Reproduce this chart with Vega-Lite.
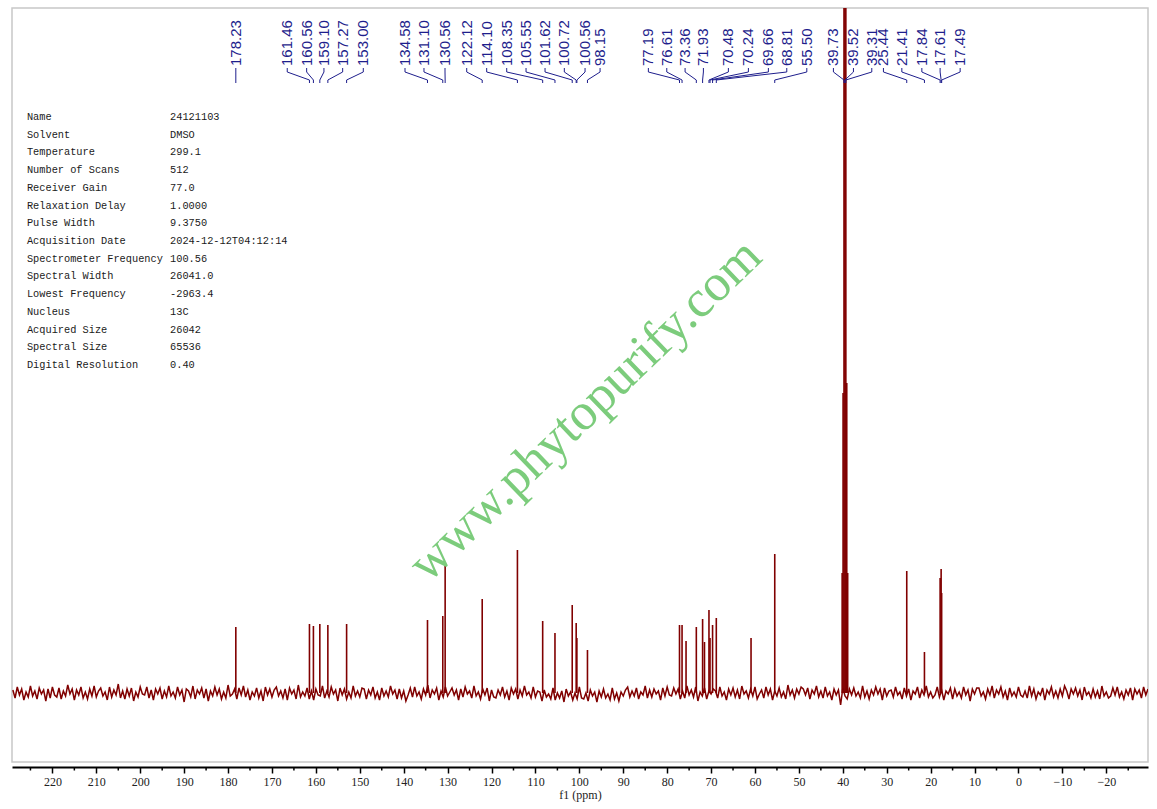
{
  "$schema": "https://vega.github.io/schema/vega-lite/v6.json",
  "width": 1136,
  "height": 754,
  "autosize": "none",
  "padding": {"left": 12, "top": 8, "right": 9, "bottom": 47},
  "background": "white",
  "config": {"view": {"stroke": "#c8c8c8", "strokeWidth": 1.5}},
  "datasets": {
    "noise": [
      {"x":229,"y":3},{"x":228.5,"y":-5},{"x":228,"y":6},{"x":227.5,"y":-2},{"x":227,"y":4},{"x":226.5,"y":-7},{"x":226,"y":1},{"x":225.5,"y":-4},{"x":225,"y":7},{"x":224.5,"y":-3},{"x":224,"y":2},{"x":223.5,"y":-6},{"x":223,"y":5},{"x":222.5,"y":-1},{"x":222,"y":3},{"x":221.5,"y":-8},{"x":221,"y":4},{"x":220.5,"y":-5},{"x":220,"y":6},{"x":219.5,"y":-2},
      {"x":219,"y":-4},{"x":218.5,"y":5},{"x":218,"y":-6},{"x":217.5,"y":2},{"x":217,"y":-3},{"x":216.5,"y":8},{"x":216,"y":-1},{"x":215.5,"y":4},{"x":215,"y":-7},{"x":214.5,"y":3},{"x":214,"y":-2},{"x":213.5,"y":6},{"x":213,"y":-5},{"x":212.5,"y":1},{"x":212,"y":-6},{"x":211.5,"y":4},{"x":211,"y":-3},{"x":210.5,"y":7},{"x":210,"y":-4},{"x":209.5,"y":2},
      {"x":209,"y":5},{"x":208.5,"y":-3},{"x":208,"y":1},{"x":207.5,"y":-7},{"x":207,"y":6},{"x":206.5,"y":-4},{"x":206,"y":3},{"x":205.5,"y":-2},{"x":205,"y":9},{"x":204.5,"y":-5},{"x":204,"y":2},{"x":203.5,"y":-6},{"x":203,"y":4},{"x":202.5,"y":-3},{"x":202,"y":5},{"x":201.5,"y":-8},{"x":201,"y":1},{"x":200.5,"y":-4},{"x":200,"y":6},{"x":199.5,"y":-1},
      {"x":199,"y":-2},{"x":198.5,"y":6},{"x":198,"y":-5},{"x":197.5,"y":3},{"x":197,"y":-7},{"x":196.5,"y":4},{"x":196,"y":-1},{"x":195.5,"y":5},{"x":195,"y":-6},{"x":194.5,"y":2},{"x":194,"y":-4},{"x":193.5,"y":7},{"x":193,"y":-3},{"x":192.5,"y":1},{"x":192,"y":-5},{"x":191.5,"y":6},{"x":191,"y":-2},{"x":190.5,"y":3},{"x":190,"y":-9},{"x":189.5,"y":4},
      {"x":189,"y":2},{"x":188.5,"y":-4},{"x":188,"y":7},{"x":187.5,"y":-6},{"x":187,"y":3},{"x":186.5,"y":-1},{"x":186,"y":5},{"x":185.5,"y":-5},{"x":185,"y":4},{"x":184.5,"y":-8},{"x":184,"y":2},{"x":183.5,"y":-3},{"x":183,"y":6},{"x":182.5,"y":-2},{"x":182,"y":4},{"x":181.5,"y":-6},{"x":181,"y":1},{"x":180.5,"y":-5},{"x":180,"y":8},{"x":179.5,"y":-3},
      {"x":179,"y":-1},{"x":178.5,"y":4},{"x":178,"y":-6},{"x":177.5,"y":5},{"x":177,"y":-2},{"x":176.5,"y":7},{"x":176,"y":-4},{"x":175.5,"y":3},{"x":175,"y":-7},{"x":174.5,"y":1},{"x":174,"y":-3},{"x":173.5,"y":5},{"x":173,"y":-5},{"x":172.5,"y":2},{"x":172,"y":-8},{"x":171.5,"y":6},{"x":171,"y":-2},{"x":170.5,"y":4},{"x":170,"y":-4},{"x":169.5,"y":3},
      {"x":169,"y":6},{"x":168.5,"y":-3},{"x":168,"y":2},{"x":167.5,"y":-5},{"x":167,"y":4},{"x":166.5,"y":-7},{"x":166,"y":5},{"x":165.5,"y":-1},{"x":165,"y":3},{"x":164.5,"y":-6},{"x":164,"y":8},{"x":163.5,"y":-4},{"x":163,"y":1},{"x":162.5,"y":-3},{"x":162,"y":5},{"x":161.5,"y":-6},{"x":161,"y":2},{"x":160.5,"y":-7},{"x":160,"y":4},{"x":159.5,"y":-2},
      {"x":159,"y":-3},{"x":158.5,"y":7},{"x":158,"y":-5},{"x":157.5,"y":2},{"x":157,"y":-4},{"x":156.5,"y":6},{"x":156,"y":-1},{"x":155.5,"y":3},{"x":155,"y":-8},{"x":154.5,"y":5},{"x":154,"y":-2},{"x":153.5,"y":4},{"x":153,"y":-6},{"x":152.5,"y":1},{"x":152,"y":-5},{"x":151.5,"y":7},{"x":151,"y":-3},{"x":150.5,"y":2},{"x":150,"y":-4},{"x":149.5,"y":5},
      {"x":149,"y":4},{"x":148.5,"y":-6},{"x":148,"y":3},{"x":147.5,"y":-2},{"x":147,"y":6},{"x":146.5,"y":-5},{"x":146,"y":1},{"x":145.5,"y":-7},{"x":145,"y":5},{"x":144.5,"y":-3},{"x":144,"y":2},{"x":143.5,"y":-4},{"x":143,"y":7},{"x":142.5,"y":-1},{"x":142,"y":3},{"x":141.5,"y":-6},{"x":141,"y":4},{"x":140.5,"y":-5},{"x":140,"y":2},{"x":139.5,"y":-8},
      {"x":139,"y":-2},{"x":138.5,"y":5},{"x":138,"y":-4},{"x":137.5,"y":6},{"x":137,"y":-3},{"x":136.5,"y":1},{"x":136,"y":-6},{"x":135.5,"y":4},{"x":135,"y":-2},{"x":134.5,"y":8},{"x":134,"y":-5},{"x":133.5,"y":3},{"x":133,"y":-1},{"x":132.5,"y":5},{"x":132,"y":-7},{"x":131.5,"y":2},{"x":131,"y":-4},{"x":130.5,"y":6},{"x":130,"y":-3},{"x":129.5,"y":1},
      {"x":129,"y":5},{"x":128.5,"y":-2},{"x":128,"y":3},{"x":127.5,"y":-7},{"x":127,"y":4},{"x":126.5,"y":-4},{"x":126,"y":6},{"x":125.5,"y":-1},{"x":125,"y":2},{"x":124.5,"y":-5},{"x":124,"y":7},{"x":123.5,"y":-3},{"x":123,"y":1},{"x":122.5,"y":-6},{"x":122,"y":4},{"x":121.5,"y":-2},{"x":121,"y":5},{"x":120.5,"y":-8},{"x":120,"y":3},{"x":119.5,"y":-4},
      {"x":119,"y":-5},{"x":118.5,"y":3},{"x":118,"y":-2},{"x":117.5,"y":6},{"x":117,"y":-4},{"x":116.5,"y":2},{"x":116,"y":-7},{"x":115.5,"y":5},{"x":115,"y":-1},{"x":114.5,"y":4},{"x":114,"y":-6},{"x":113.5,"y":3},{"x":113,"y":-3},{"x":112.5,"y":7},{"x":112,"y":-2},{"x":111.5,"y":1},{"x":111,"y":-5},{"x":110.5,"y":6},{"x":110,"y":-4},{"x":109.5,"y":2},
      {"x":109,"y":1},{"x":108.5,"y":-8},{"x":108,"y":3},{"x":107.5,"y":-4},{"x":107,"y":-1},{"x":106.5,"y":-6},{"x":106,"y":5},{"x":105.5,"y":-7},{"x":105,"y":0},{"x":104.5,"y":-5},{"x":104,"y":2},{"x":103.5,"y":-9},{"x":103,"y":4},{"x":102.5,"y":-3},{"x":102,"y":1},{"x":101.5,"y":-7},{"x":101,"y":0},{"x":100.5,"y":-6},{"x":100,"y":6},{"x":99.5,"y":-5},
      {"x":99,"y":-6},{"x":98.5,"y":0},{"x":98,"y":-8},{"x":97.5,"y":3},{"x":97,"y":-3},{"x":96.5,"y":1},{"x":96,"y":-9},{"x":95.5,"y":2},{"x":95,"y":-4},{"x":94.5,"y":4},{"x":94,"y":-5},{"x":93.5,"y":-1},{"x":93,"y":-7},{"x":92.5,"y":5},{"x":92,"y":-6},{"x":91.5,"y":0},{"x":91,"y":-8},{"x":90.5,"y":1},{"x":90,"y":-3},{"x":89.5,"y":3},
      {"x":89,"y":6},{"x":88.5,"y":-4},{"x":88,"y":2},{"x":87.5,"y":-3},{"x":87,"y":5},{"x":86.5,"y":-6},{"x":86,"y":1},{"x":85.5,"y":-2},{"x":85,"y":7},{"x":84.5,"y":-5},{"x":84,"y":3},{"x":83.5,"y":-4},{"x":83,"y":4},{"x":82.5,"y":-1},{"x":82,"y":2},{"x":81.5,"y":-7},{"x":81,"y":5},{"x":80.5,"y":-3},{"x":80,"y":6},{"x":79.5,"y":-2},
      {"x":79,"y":-3},{"x":78.5,"y":5},{"x":78,"y":-1},{"x":77.5,"y":4},{"x":77,"y":-6},{"x":76.5,"y":2},{"x":76,"y":-5},{"x":75.5,"y":7},{"x":75,"y":-2},{"x":74.5,"y":3},{"x":74,"y":-4},{"x":73.5,"y":6},{"x":73,"y":-8},{"x":72.5,"y":1},{"x":72,"y":-3},{"x":71.5,"y":5},{"x":71,"y":-6},{"x":70.5,"y":2},{"x":70,"y":-1},{"x":69.5,"y":4},
      {"x":69,"y":2},{"x":68.5,"y":-5},{"x":68,"y":6},{"x":67.5,"y":-3},{"x":67,"y":1},{"x":66.5,"y":-7},{"x":66,"y":4},{"x":65.5,"y":-2},{"x":65,"y":5},{"x":64.5,"y":-4},{"x":64,"y":3},{"x":63.5,"y":-6},{"x":63,"y":7},{"x":62.5,"y":-1},{"x":62,"y":2},{"x":61.5,"y":-5},{"x":61,"y":4},{"x":60.5,"y":-3},{"x":60,"y":6},{"x":59.5,"y":-6},
      {"x":59,"y":-1},{"x":58.5,"y":3},{"x":58,"y":-5},{"x":57.5,"y":6},{"x":57,"y":-2},{"x":56.5,"y":4},{"x":56,"y":-7},{"x":55.5,"y":2},{"x":55,"y":-3},{"x":54.5,"y":5},{"x":54,"y":-4},{"x":53.5,"y":1},{"x":53,"y":-6},{"x":52.5,"y":8},{"x":52,"y":-2},{"x":51.5,"y":3},{"x":51,"y":-5},{"x":50.5,"y":4},{"x":50,"y":-1},{"x":49.5,"y":6},
      {"x":49,"y":4},{"x":48.5,"y":-2},{"x":48,"y":5},{"x":47.5,"y":-6},{"x":47,"y":3},{"x":46.5,"y":-1},{"x":46,"y":7},{"x":45.5,"y":-4},{"x":45,"y":2},{"x":44.5,"y":-5},{"x":44,"y":6},{"x":43.5,"y":-3},{"x":43,"y":1},{"x":42.5,"y":-7},{"x":42,"y":4},{"x":41.5,"y":-2},{"x":41,"y":3},{"x":40.5,"y":-12},{"x":40,"y":5},{"x":39.5,"y":-3},
      {"x":39,"y":-6},{"x":38.5,"y":4},{"x":38,"y":-2},{"x":37.5,"y":5},{"x":37,"y":-3},{"x":36.5,"y":1},{"x":36,"y":-5},{"x":35.5,"y":7},{"x":35,"y":-4},{"x":34.5,"y":2},{"x":34,"y":-6},{"x":33.5,"y":3},{"x":33,"y":-2},{"x":32.5,"y":6},{"x":32,"y":-1},{"x":31.5,"y":4},{"x":31,"y":-7},{"x":30.5,"y":5},{"x":30,"y":-3},{"x":29.5,"y":2},
      {"x":29,"y":3},{"x":28.5,"y":-4},{"x":28,"y":6},{"x":27.5,"y":-2},{"x":27,"y":1},{"x":26.5,"y":-6},{"x":26,"y":5},{"x":25.5,"y":-3},{"x":25,"y":4},{"x":24.5,"y":-7},{"x":24,"y":2},{"x":23.5,"y":-1},{"x":23,"y":6},{"x":22.5,"y":-5},{"x":22,"y":3},{"x":21.5,"y":-2},{"x":21,"y":7},{"x":20.5,"y":-4},{"x":20,"y":1},{"x":19.5,"y":-5},
      {"x":19,"y":-2},{"x":18.5,"y":6},{"x":18,"y":-4},{"x":17.5,"y":3},{"x":17,"y":-7},{"x":16.5,"y":2},{"x":16,"y":-1},{"x":15.5,"y":5},{"x":15,"y":-6},{"x":14.5,"y":4},{"x":14,"y":-3},{"x":13.5,"y":1},{"x":13,"y":-5},{"x":12.5,"y":6},{"x":12,"y":-2},{"x":11.5,"y":3},{"x":11,"y":-8},{"x":10.5,"y":4},{"x":10,"y":-1},{"x":9.5,"y":5},
      {"x":9,"y":5},{"x":8.5,"y":-3},{"x":8,"y":1},{"x":7.5,"y":-6},{"x":7,"y":4},{"x":6.5,"y":-2},{"x":6,"y":7},{"x":5.5,"y":-5},{"x":5,"y":3},{"x":4.5,"y":-1},{"x":4,"y":6},{"x":3.5,"y":-4},{"x":3,"y":2},{"x":2.5,"y":-7},{"x":2,"y":5},{"x":1.5,"y":-3},{"x":1,"y":1},{"x":0.5,"y":-4},{"x":0,"y":6},{"x":-0.5,"y":-2},
      {"x":-1,"y":-4},{"x":-1.5,"y":2},{"x":-2,"y":-5},{"x":-2.5,"y":7},{"x":-3,"y":-3},{"x":-3.5,"y":4},{"x":-4,"y":-6},{"x":-4.5,"y":1},{"x":-5,"y":-2},{"x":-5.5,"y":5},{"x":-6,"y":-7},{"x":-6.5,"y":3},{"x":-7,"y":-1},{"x":-7.5,"y":6},{"x":-8,"y":-4},{"x":-8.5,"y":2},{"x":-9,"y":-5},{"x":-9.5,"y":4},{"x":-10,"y":-3},{"x":-10.5,"y":7},
      {"x":-11,"y":2},{"x":-11.5,"y":-6},{"x":-12,"y":4},{"x":-12.5,"y":-1},{"x":-13,"y":5},{"x":-13.5,"y":-3},{"x":-14,"y":3},{"x":-14.5,"y":-7},{"x":-15,"y":6},{"x":-15.5,"y":-2},{"x":-16,"y":1},{"x":-16.5,"y":-5},{"x":-17,"y":4},{"x":-17.5,"y":-4},{"x":-18,"y":2},{"x":-18.5,"y":-6},{"x":-19,"y":7},{"x":-19.5,"y":-3},{"x":-20,"y":1},{"x":-20.5,"y":-5},
      {"x":-21,"y":-3},{"x":-21.5,"y":5},{"x":-22,"y":-2},{"x":-22.5,"y":6},{"x":-23,"y":-4},{"x":-23.5,"y":1},{"x":-24,"y":-6},{"x":-24.5,"y":3},{"x":-25,"y":-2},{"x":-25.5,"y":5},{"x":-26,"y":-7},{"x":-26.5,"y":4},{"x":-27,"y":-1},{"x":-27.5,"y":3},{"x":-28,"y":-5},{"x":-28.5,"y":6},{"x":-29,"y":-2},{"x":-29.5,"y":4}
    ],
    "peaks": [
      {"ppm":178.23,"h":66},{"ppm":161.46,"h":69},{"ppm":160.56,"h":67},{"ppm":159.10,"h":69},
      {"ppm":157.27,"h":68},{"ppm":153.00,"h":69},{"ppm":134.58,"h":73},{"ppm":131.10,"h":77},
      {"ppm":130.56,"h":131},{"ppm":122.12,"h":94},{"ppm":114.10,"h":143},{"ppm":108.35,"h":72},
      {"ppm":105.55,"h":60},{"ppm":101.62,"h":88},{"ppm":100.72,"h":70},{"ppm":100.56,"h":55},
      {"ppm":98.15,"h":43},{"ppm":77.19,"h":68},{"ppm":76.61,"h":68},{"ppm":75.70,"h":52},
      {"ppm":73.36,"h":66},{"ppm":71.93,"h":74},{"ppm":71.50,"h":51},{"ppm":70.48,"h":83},
      {"ppm":70.24,"h":55},{"ppm":69.66,"h":68},{"ppm":68.81,"h":75},{"ppm":60.90,"h":55},
      {"ppm":55.50,"h":139},{"ppm":40.15,"h":120},{"ppm":39.94,"h":300},{"ppm":39.73,"h":900},
      {"ppm":39.52,"h":1000},{"ppm":39.31,"h":900},{"ppm":39.10,"h":310},{"ppm":38.89,"h":120},
      {"ppm":25.44,"h":122},{"ppm":21.41,"h":41},{"ppm":17.84,"h":115},{"ppm":17.61,"h":124},
      {"ppm":17.49,"h":100}
    ],
    "labels": [
      {"ppm":178.23,"lx":178.23},{"ppm":161.46,"lx":166.52},{"ppm":160.56,"lx":162.10},
      {"ppm":159.10,"lx":158.16},{"ppm":157.27,"lx":153.90},{"ppm":153.00,"lx":149.20},
      {"ppm":134.58,"lx":139.70},{"ppm":131.10,"lx":135.38},{"ppm":130.56,"lx":130.59},
      {"ppm":122.12,"lx":125.65},{"ppm":114.10,"lx":121.10},{"ppm":108.35,"lx":116.54},
      {"ppm":105.55,"lx":112.14},{"ppm":101.62,"lx":107.81},{"ppm":100.72,"lx":103.42},
      {"ppm":100.56,"lx":98.70},{"ppm":98.15,"lx":95.28},{"ppm":77.19,"lx":84.28},
      {"ppm":76.61,"lx":80.09},{"ppm":73.36,"lx":75.92},{"ppm":71.93,"lx":71.75},
      {"ppm":70.48,"lx":66.06},{"ppm":70.24,"lx":61.50},{"ppm":69.66,"lx":56.95},
      {"ppm":68.81,"lx":52.76},{"ppm":55.50,"lx":48.20},{"ppm":39.73,"lx":42.14},
      {"ppm":39.52,"lx":37.58},{"ppm":39.31,"lx":33.40},{"ppm":25.44,"lx":30.75},
      {"ppm":21.41,"lx":26.56},{"ppm":17.84,"lx":22.00},{"ppm":17.61,"lx":17.84},
      {"ppm":17.49,"lx":13.28}
    ],
    "minorTicks": [
      {"t":225},{"t":215},{"t":205},{"t":195},{"t":185},{"t":175},{"t":165},{"t":155},{"t":145},
      {"t":135},{"t":125},{"t":115},{"t":105},{"t":95},{"t":85},{"t":75},{"t":65},{"t":55},
      {"t":45},{"t":35},{"t":25},{"t":15},{"t":5},{"t":-5},{"t":-15},{"t":-25}
    ],
    "params": [
      {"row":0,"k":"Name","v":"24121103"},
      {"row":1,"k":"Solvent","v":"DMSO"},
      {"row":2,"k":"Temperature","v":"299.1"},
      {"row":3,"k":"Number of Scans","v":"512"},
      {"row":4,"k":"Receiver Gain","v":"77.0"},
      {"row":5,"k":"Relaxation Delay","v":"1.0000"},
      {"row":6,"k":"Pulse Width","v":"9.3750"},
      {"row":7,"k":"Acquisition Date","v":"2024-12-12T04:12:14"},
      {"row":8,"k":"Spectrometer Frequency","v":"100.56"},
      {"row":9,"k":"Spectral Width","v":"26041.0"},
      {"row":10,"k":"Lowest Frequency","v":"-2963.4"},
      {"row":11,"k":"Nucleus","v":"13C"},
      {"row":12,"k":"Acquired Size","v":"26042"},
      {"row":13,"k":"Spectral Size","v":"65536"},
      {"row":14,"k":"Digital Resolution","v":"0.40"}
    ]
  },
  "layer": [
    {
      "layer": [
        {
          "data": {"name": "noise"},
          "mark": {"type": "line", "color": "#800000", "strokeWidth": 1.5, "clip": true},
          "encoding": {
            "x": {
              "field": "x",
              "type": "quantitative",
              "title": "f1 (ppm)",
              "scale": {"domain": [-29.5, 229.2], "reverse": true, "nice": false, "zero": false},
              "axis": {
                "values": [220,210,200,190,180,170,160,150,140,130,120,110,100,90,80,70,60,50,40,30,20,10,0,-10,-20],
                "tickSize": 6,
                "offset": 5,
                "grid": false,
                "domainColor": "#000000",
                "domainWidth": 2,
                "tickColor": "#000000",
                "tickWidth": 1.5,
                "labelFont": "Liberation Serif",
                "labelFontSize": 12,
                "labelColor": "#222222",
                "labelPadding": 3,
                "labelOverlap": false,
                "labelFlush": false,
                "titleFont": "Liberation Serif",
                "titleFontSize": 12,
                "titleFontWeight": "normal",
                "titleColor": "#222222",
                "titlePadding": 2
              }
            },
            "y": {
              "field": "y",
              "type": "quantitative",
              "scale": {"domain": [-69, 685], "nice": false, "zero": false},
              "axis": null
            }
          }
        },
        {
          "data": {"name": "minorTicks"},
          "mark": {"type": "rule", "color": "#000000", "strokeWidth": 1.5, "clip": false},
          "encoding": {
            "x": {"field": "t", "type": "quantitative"},
            "y": {"datum": -74, "type": "quantitative"},
            "y2": {"datum": -77.5}
          }
        },
        {
          "data": {"name": "peaks"},
          "mark": {"type": "rule", "color": "#800000", "strokeWidth": 1.6, "clip": true},
          "encoding": {
            "x": {"field": "ppm", "type": "quantitative"},
            "y": {"field": "h", "type": "quantitative"},
            "y2": {"datum": 0}
          }
        },
        {
          "data": {"name": "labels"},
          "mark": {"type": "rule", "color": "#1e1e8c", "strokeWidth": 1},
          "encoding": {
            "x": {"field": "lx", "type": "quantitative"},
            "y": {"datum": 625, "type": "quantitative"},
            "y2": {"datum": 621}
          }
        },
        {
          "data": {"name": "labels"},
          "mark": {"type": "rule", "color": "#1e1e8c", "strokeWidth": 1},
          "encoding": {
            "x": {"field": "lx", "type": "quantitative"},
            "x2": {"field": "ppm"},
            "y": {"datum": 621, "type": "quantitative"},
            "y2": {"datum": 613}
          }
        },
        {
          "data": {"name": "labels"},
          "mark": {"type": "rule", "color": "#1e1e8c", "strokeWidth": 1},
          "encoding": {
            "x": {"field": "ppm", "type": "quantitative"},
            "y": {"datum": 613, "type": "quantitative"},
            "y2": {"datum": 610}
          }
        },
        {
          "data": {"name": "labels"},
          "mark": {"type": "text", "angle": 270, "align": "left", "baseline": "middle", "font": "Liberation Sans", "fontSize": 15, "color": "#1e1e8c"},
          "encoding": {
            "x": {"field": "lx", "type": "quantitative"},
            "y": {"datum": 627, "type": "quantitative"},
            "text": {"field": "ppm", "type": "quantitative", "format": ".2f"}
          }
        },
        {
          "data": {"values": [{"w": "www.phytopurify.com"}]},
          "mark": {"type": "text", "angle": 316, "align": "center", "baseline": "middle", "font": "Liberation Serif", "fontSize": 52, "color": "#7ccc7c"},
          "encoding": {
            "x": {"datum": 98.7, "type": "quantitative"},
            "y": {"datum": 283, "type": "quantitative"},
            "text": {"field": "w", "type": "nominal"}
          }
        }
      ]
    },
    {
      "data": {"name": "params"},
      "layer": [
        {
          "mark": {"type": "text", "align": "left", "baseline": "middle", "font": "Liberation Mono", "fontSize": 10.3, "color": "#1a1a1a"},
          "encoding": {
            "x": {"datum": 225.8, "type": "quantitative"},
            "y": {
              "field": "row",
              "type": "quantitative",
              "scale": {"domain": [-6.155, 36.42], "reverse": true, "nice": false, "zero": false},
              "axis": null
            },
            "text": {"field": "k", "type": "nominal"}
          }
        },
        {
          "mark": {"type": "text", "align": "left", "baseline": "middle", "font": "Liberation Mono", "fontSize": 10.3, "color": "#1a1a1a"},
          "encoding": {
            "x": {"datum": 193.2, "type": "quantitative"},
            "y": {"field": "row", "type": "quantitative", "axis": null},
            "text": {"field": "v", "type": "nominal"}
          }
        }
      ]
    }
  ],
  "resolve": {"scale": {"y": "independent"}}
}
